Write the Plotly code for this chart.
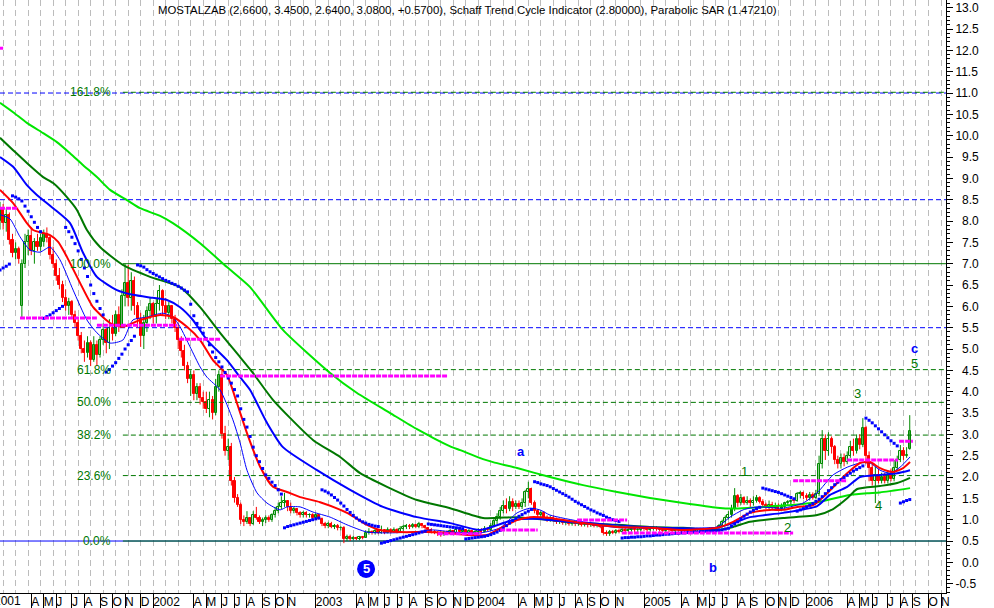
import math
from datetime import datetime, timedelta
import plotly.graph_objects as go

# ---------------- data ----------------
BASE = datetime(2001, 1, 26)          # first weekly bar (Friday)
RANGE_END_DAYS = 2118.2               # right edge of the plot, in days after BASE

opens = [
    8.00, 8.30, 7.95, 8.15, 7.55, 7.25, 7.35, 6.00, 7.00, 7.50,
    7.65, 7.30, 7.50, 7.40, 7.50, 7.70, 7.60, 7.20, 7.00, 6.70,
    6.50, 6.20, 6.00, 6.10, 5.80, 5.60, 5.30, 5.00, 4.90, 5.15,
    4.75, 5.10, 4.85, 5.20, 5.45, 5.15, 5.50, 5.35, 5.80, 5.55,
    6.25, 6.55, 6.20, 6.60, 6.00, 5.70, 5.30, 5.60, 5.90, 6.05,
    5.75, 6.05, 6.35, 6.00, 5.85, 6.00, 5.70, 5.50, 5.20, 4.95,
    4.60, 4.30, 4.40, 3.95, 4.10, 3.85, 3.75, 3.60, 3.80, 3.50,
    4.10, 4.40, 3.00, 2.60, 2.70, 1.90, 1.50, 1.35, 1.00, 0.95,
    1.05, 0.90, 1.10, 1.05, 0.95, 1.00, 1.05, 1.00, 1.10, 1.20,
    1.30, 1.40, 1.45, 1.30, 1.20, 1.25, 1.15, 1.10, 1.15, 1.10,
    1.12, 1.05, 1.10, 1.02, 0.90, 0.85, 0.90, 0.84, 0.86, 0.80,
    0.80, 0.55, 0.60, 0.55, 0.58, 0.55, 0.60, 0.58, 0.70, 0.72,
    0.68, 0.73, 0.70, 0.75, 0.70, 0.76, 0.72, 0.77, 0.72, 0.79,
    0.83, 0.86, 0.82, 0.87, 0.84, 0.89, 0.85, 0.80, 0.75, 0.72,
    0.70, 0.68, 0.66, 0.70, 0.68, 0.73, 0.70, 0.75, 0.72, 0.76,
    0.70, 0.73, 0.68, 0.71, 0.75, 0.72, 0.79, 0.76, 0.86, 0.96,
    1.06, 1.20, 1.32, 1.25, 1.42, 1.30, 1.36, 1.30, 1.38, 1.65,
    1.72, 1.40, 1.20, 1.10, 1.15, 1.05, 1.00, 1.05, 1.00, 0.95,
    0.98, 0.93, 0.95, 0.90, 0.93, 0.90, 0.92, 0.88, 0.90, 0.87,
    0.90, 0.86, 0.88, 0.84, 0.70, 0.66, 0.72, 0.70, 0.74, 0.72,
    0.76, 0.74, 0.76, 0.78, 0.75, 0.77, 0.80, 0.78, 0.76, 0.79,
    0.81, 0.78, 0.76, 0.74, 0.77, 0.75, 0.73, 0.76, 0.78, 0.75,
    0.73, 0.76, 0.74, 0.72, 0.75, 0.77, 0.74, 0.76, 0.78, 0.77,
    0.80, 0.85, 0.95, 1.05, 1.10, 1.25, 1.55, 1.40, 1.50, 1.40,
    1.45, 1.38, 1.45, 1.50, 1.42, 1.35, 1.30, 1.35, 1.28, 1.32,
    1.25, 1.30, 1.38, 1.42, 1.45, 1.44, 1.60, 1.62, 1.55, 1.50,
    1.58, 1.52, 1.60, 2.30, 2.90, 2.60, 2.90, 2.70, 2.40, 2.30,
    2.45, 2.35, 2.50, 2.70, 2.60, 2.90, 2.75, 3.15, 2.50, 2.20,
    1.90, 2.05, 1.90, 2.00, 1.90, 2.05, 1.95, 2.20, 2.40, 2.60,
    2.50, 2.66,
]
highs = [
    8.45, 8.40, 8.30, 8.20, 7.70, 7.50, 7.40, 7.10, 7.70, 7.80,
    7.85, 7.60, 7.70, 7.70, 7.80, 7.85, 7.65, 7.40, 7.10, 6.90,
    6.60, 6.40, 6.20, 6.15, 5.90, 5.70, 5.40, 5.20, 5.30, 5.20,
    5.30, 5.20, 5.30, 5.60, 5.50, 5.70, 5.80, 5.90, 6.00, 6.40,
    7.00, 6.97, 6.80, 6.70, 6.10, 5.85, 5.80, 6.00, 6.20, 6.10,
    6.20, 6.50, 6.40, 6.20, 6.10, 6.00, 5.80, 5.60, 5.30, 5.10,
    4.70, 4.50, 4.50, 4.20, 4.20, 4.00, 4.00, 4.00, 3.90, 4.30,
    4.50, 4.50, 3.20, 2.90, 2.80, 2.00, 1.60, 1.40, 1.10, 1.20,
    1.05, 1.20, 1.30, 1.10, 1.05, 1.10, 1.10, 1.15, 1.30, 1.40,
    1.55, 1.63, 1.46, 1.40, 1.30, 1.27, 1.20, 1.20, 1.20, 1.15,
    1.15, 1.15, 1.12, 1.05, 0.95, 0.95, 0.95, 0.90, 0.90, 0.85,
    0.85, 0.65, 0.65, 0.62, 0.60, 0.62, 0.62, 0.75, 0.80, 0.75,
    0.78, 0.76, 0.86, 0.78, 0.82, 0.80, 0.82, 0.80, 0.85, 0.88,
    0.90, 0.90, 0.92, 0.90, 0.95, 0.92, 0.88, 0.82, 0.80, 0.76,
    0.74, 0.72, 0.74, 0.75, 0.78, 0.76, 0.80, 0.78, 0.80, 0.78,
    0.78, 0.75, 0.76, 0.80, 0.80, 0.85, 0.82, 0.92, 1.05, 1.15,
    1.30, 1.45, 1.50, 1.55, 1.50, 1.45, 1.45, 1.50, 1.70, 1.89,
    1.75, 1.45, 1.25, 1.20, 1.20, 1.10, 1.10, 1.10, 1.05, 1.02,
    1.00, 1.00, 0.98, 0.98, 0.96, 0.96, 0.95, 0.95, 0.93, 0.94,
    0.92, 0.92, 0.90, 0.86, 0.75, 0.76, 0.76, 0.78, 0.78, 0.80,
    0.80, 0.80, 0.82, 0.82, 0.81, 0.84, 0.84, 0.82, 0.83, 0.85,
    0.85, 0.82, 0.80, 0.81, 0.81, 0.79, 0.80, 0.82, 0.82, 0.79,
    0.80, 0.80, 0.78, 0.79, 0.81, 0.81, 0.80, 0.82, 0.82, 0.84,
    0.90, 1.00, 1.10, 1.20, 1.35, 1.74, 1.60, 1.60, 1.55, 1.55,
    1.50, 1.55, 1.58, 1.55, 1.48, 1.40, 1.45, 1.42, 1.40, 1.38,
    1.38, 1.42, 1.46, 1.48, 1.47, 1.65, 1.68, 1.66, 1.62, 1.65,
    1.64, 1.70, 2.50, 3.10, 3.00, 3.05, 2.95, 2.75, 2.50, 2.55,
    2.55, 2.60, 2.85, 2.90, 3.00, 3.00, 3.38, 3.20, 2.60, 2.30,
    2.25, 2.20, 2.10, 2.10, 2.15, 2.20, 2.40, 2.50, 2.75, 2.70,
    2.70, 3.45,
]
lows = [
    7.80, 7.80, 7.75, 7.45, 7.15, 7.10, 7.00, 5.75, 6.90, 7.20,
    7.20, 7.00, 7.30, 7.30, 7.40, 7.50, 7.10, 6.90, 6.60, 6.40,
    6.10, 5.90, 5.80, 5.70, 5.50, 5.20, 4.90, 4.70, 4.80, 4.60,
    4.70, 4.60, 4.80, 5.10, 4.90, 5.00, 5.20, 5.30, 5.40, 5.50,
    6.00, 6.00, 5.90, 5.80, 5.50, 5.05, 5.00, 5.40, 5.70, 5.60,
    5.60, 5.90, 5.80, 5.70, 5.70, 5.60, 5.40, 5.00, 4.80, 4.50,
    4.20, 3.90, 3.80, 3.80, 3.70, 3.60, 3.50, 3.40, 3.35, 3.45,
    4.00, 2.90, 2.50, 2.40, 1.80, 1.40, 1.30, 0.90, 0.85, 0.90,
    0.85, 0.88, 1.00, 0.90, 0.85, 0.92, 0.95, 0.95, 1.05, 1.15,
    1.25, 1.30, 1.20, 1.15, 1.15, 1.10, 1.05, 1.05, 1.05, 1.05,
    1.00, 1.00, 1.00, 0.85, 0.80, 0.80, 0.80, 0.78, 0.75, 0.75,
    0.45, 0.50, 0.50, 0.52, 0.52, 0.52, 0.54, 0.57, 0.65, 0.65,
    0.65, 0.66, 0.67, 0.66, 0.68, 0.68, 0.70, 0.68, 0.70, 0.74,
    0.78, 0.78, 0.80, 0.80, 0.80, 0.80, 0.76, 0.70, 0.68, 0.66,
    0.62, 0.60, 0.62, 0.64, 0.65, 0.66, 0.67, 0.68, 0.68, 0.66,
    0.66, 0.64, 0.64, 0.66, 0.68, 0.70, 0.72, 0.74, 0.82, 0.90,
    1.00, 1.15, 1.15, 1.20, 1.20, 1.25, 1.25, 1.25, 1.30, 1.50,
    1.35, 1.15, 1.05, 1.05, 1.00, 0.95, 0.95, 0.95, 0.90, 0.90,
    0.88, 0.88, 0.86, 0.86, 0.85, 0.86, 0.84, 0.84, 0.82, 0.83,
    0.82, 0.82, 0.80, 0.65, 0.62, 0.62, 0.66, 0.67, 0.68, 0.70,
    0.70, 0.70, 0.72, 0.71, 0.71, 0.73, 0.74, 0.72, 0.72, 0.75,
    0.74, 0.72, 0.70, 0.70, 0.71, 0.69, 0.69, 0.72, 0.71, 0.69,
    0.69, 0.70, 0.68, 0.68, 0.71, 0.70, 0.70, 0.72, 0.73, 0.73,
    0.78, 0.82, 0.90, 1.00, 1.05, 1.20, 1.30, 1.35, 1.35, 1.35,
    1.30, 1.33, 1.40, 1.38, 1.28, 1.25, 1.25, 1.22, 1.22, 1.20,
    1.20, 1.25, 1.33, 1.36, 1.38, 1.42, 1.50, 1.48, 1.45, 1.45,
    1.47, 1.48, 1.55, 2.20, 2.40, 2.50, 2.55, 2.30, 2.20, 2.20,
    2.25, 2.30, 2.45, 2.50, 2.55, 2.65, 2.70, 2.30, 1.90, 1.80,
    1.39, 1.85, 1.85, 1.85, 1.85, 1.90, 1.90, 2.15, 2.35, 2.40,
    2.45, 2.64,
]
closes = [
    8.30, 7.95, 8.15, 7.55, 7.25, 7.35, 7.10, 7.00, 7.50, 7.65,
    7.30, 7.50, 7.40, 7.60, 7.70, 7.60, 7.20, 7.00, 6.70, 6.50,
    6.20, 6.00, 6.10, 5.80, 5.60, 5.30, 5.00, 4.90, 5.15, 4.75,
    5.10, 4.85, 5.20, 5.45, 5.15, 5.50, 5.35, 5.80, 5.55, 6.25,
    6.55, 6.20, 6.60, 6.00, 5.70, 5.30, 5.60, 5.90, 6.05, 5.75,
    6.05, 6.35, 6.00, 5.85, 6.00, 5.70, 5.50, 5.20, 4.95, 4.60,
    4.30, 4.40, 3.95, 4.10, 3.85, 3.75, 3.60, 3.80, 3.50, 4.10,
    4.40, 3.00, 2.60, 2.70, 1.90, 1.50, 1.35, 1.00, 0.95, 1.05,
    0.90, 1.10, 1.05, 0.95, 1.00, 1.05, 1.00, 1.10, 1.20, 1.30,
    1.40, 1.45, 1.30, 1.20, 1.25, 1.15, 1.10, 1.15, 1.10, 1.12,
    1.05, 1.10, 1.02, 0.90, 0.85, 0.90, 0.84, 0.86, 0.80, 0.80,
    0.55, 0.60, 0.55, 0.58, 0.55, 0.60, 0.58, 0.70, 0.72, 0.68,
    0.73, 0.70, 0.75, 0.70, 0.76, 0.72, 0.77, 0.72, 0.79, 0.83,
    0.86, 0.82, 0.87, 0.84, 0.89, 0.85, 0.80, 0.75, 0.72, 0.70,
    0.68, 0.66, 0.70, 0.68, 0.73, 0.70, 0.75, 0.72, 0.76, 0.70,
    0.73, 0.68, 0.71, 0.75, 0.72, 0.79, 0.76, 0.86, 0.96, 1.06,
    1.20, 1.32, 1.25, 1.42, 1.30, 1.36, 1.30, 1.38, 1.65, 1.72,
    1.40, 1.20, 1.10, 1.15, 1.05, 1.00, 1.05, 1.00, 0.95, 0.98,
    0.93, 0.95, 0.90, 0.93, 0.90, 0.92, 0.88, 0.90, 0.87, 0.90,
    0.86, 0.88, 0.84, 0.70, 0.66, 0.72, 0.70, 0.74, 0.72, 0.76,
    0.74, 0.76, 0.78, 0.75, 0.77, 0.80, 0.78, 0.76, 0.79, 0.81,
    0.78, 0.76, 0.74, 0.77, 0.75, 0.73, 0.76, 0.78, 0.75, 0.73,
    0.76, 0.74, 0.72, 0.75, 0.77, 0.74, 0.76, 0.78, 0.77, 0.80,
    0.85, 0.95, 1.05, 1.10, 1.25, 1.55, 1.40, 1.50, 1.40, 1.45,
    1.38, 1.45, 1.50, 1.42, 1.35, 1.30, 1.35, 1.28, 1.32, 1.25,
    1.30, 1.38, 1.42, 1.45, 1.44, 1.60, 1.62, 1.55, 1.50, 1.58,
    1.52, 1.60, 2.30, 2.90, 2.60, 2.90, 2.70, 2.40, 2.30, 2.45,
    2.35, 2.50, 2.70, 2.60, 2.90, 2.75, 3.15, 2.50, 2.20, 1.90,
    2.05, 1.90, 2.00, 1.90, 2.05, 1.95, 2.20, 2.40, 2.60, 2.50,
    2.51, 3.08,
]

# Parabolic SAR, one value per weekly bar
sar = [
    6.85, 6.90, 6.94, 6.99,
    8.59, 8.56, 8.52, 8.47, 8.35, 8.23, 8.10, 7.97, 7.85, 7.75,
    5.72, 5.76, 5.80, 5.85, 5.90, 5.95, 6.00,
    7.85, 7.75, 7.62, 7.47, 7.30, 7.10, 6.90, 6.70, 6.50, 6.30, 6.12, 5.95, 5.80,
    4.46, 4.52, 4.60, 4.68, 4.78, 4.88, 5.00, 5.10, 5.20, 5.30,
    6.97, 6.95, 6.92, 6.86, 6.81, 6.77, 6.73, 6.69, 6.65, 6.61, 6.58, 6.54, 6.51,
    6.47, 6.43, 6.38, 6.34,
    6.05, 5.78, 5.60, 5.49, 5.37, 5.24, 5.10, 4.93, 4.80, 4.70, 4.58, 4.45, 4.32,
    4.20, 4.05, 3.90, 3.60, 3.35, 3.17, 2.95, 2.70, 2.50, 2.36, 2.20, 2.05, 1.97,
    1.88, 1.80, 1.70, 1.60,
    0.81, 0.84, 0.86, 0.88, 0.90, 0.92, 0.94, 0.96, 0.98, 1.00, 1.02, 1.04,
    1.70, 1.67, 1.63, 1.58, 1.52, 1.46, 1.39, 1.32, 1.24, 1.17, 1.10, 1.04, 0.99,
    0.95, 0.92, 0.89, 0.87, 0.85, 0.84,
    0.45, 0.47, 0.49, 0.51, 0.53, 0.55, 0.57, 0.59, 0.61, 0.63, 0.65, 0.67, 0.69,
    0.71, 0.73,
    0.90, 0.89, 0.88, 0.87, 0.86, 0.85, 0.84, 0.83, 0.82, 0.81, 0.80, 0.79,
    0.55, 0.56, 0.57, 0.58, 0.59, 0.60, 0.61, 0.63, 0.65, 0.68, 0.71, 0.75, 0.80,
    0.86, 0.92, 0.98, 1.03, 1.08, 1.12, 1.16, 1.20, 1.24,
    1.89, 1.87, 1.84, 1.82, 1.80, 1.77, 1.73, 1.69, 1.65, 1.61, 1.57, 1.53, 1.48,
    1.43, 1.39, 1.35, 1.31, 1.27, 1.23, 1.20, 1.16, 1.13, 1.10, 1.06, 1.03, 1.00,
    0.98, 0.96,
    0.57, 0.58, 0.58, 0.59, 0.59, 0.60, 0.60, 0.61, 0.62, 0.62, 0.63, 0.64, 0.64,
    0.65, 0.66, 0.66, 0.67, 0.68, 0.68, 0.69, 0.69, 0.70, 0.70, 0.71, 0.71, 0.72,
    0.72, 0.73, 0.73, 0.74, 0.74, 0.75, 0.76, 0.78, 0.80, 0.85, 0.90, 0.95, 1.02,
    1.08, 1.13, 1.18, 1.22, 1.26, 1.29,
    1.74, 1.72, 1.70, 1.68, 1.66, 1.64, 1.61, 1.58, 1.55, 1.52, 1.49,
    1.20, 1.23, 1.26, 1.30, 1.34, 1.38, 1.43, 1.48, 1.54, 1.61, 1.68, 1.75, 1.82,
    1.88, 1.94, 1.99, 2.04, 2.09, 2.14, 2.18, 2.22, 2.26,
    3.38, 3.33, 3.27, 3.20, 3.13, 3.06, 2.99, 2.92, 2.85, 2.79, 2.73,
    1.39, 1.42, 1.45, 1.4721,
]

# moving averages sampled at (week index, value)
ma_long_w = [0, 4.2, 8.6, 13.8, 18.2, 22.4, 26.6, 31.0, 35.2, 40.6, 44.8, 51.2, 55.3, 64.0,
             72.6, 80.0, 90.5, 105.6, 114.2, 124.8, 133.4, 138.5, 144.0, 147.2, 154.5, 157.7,
             165.4, 175.9, 186.5, 197.4, 207.9, 218.5, 229.4, 234.5, 239.9, 250.5, 261.4,
             271.9, 277.4, 281.5, 291.1]
ma_long_v = [10.77, 10.55, 10.30, 10.06, 9.85, 9.59, 9.31, 9.03, 8.73, 8.49, 8.30, 8.12, 7.95, 7.48,
             6.92, 6.45, 5.45, 4.44, 3.97, 3.50, 3.12, 2.92, 2.72, 2.63, 2.42, 2.35,
             2.21, 2.00, 1.81, 1.65, 1.51, 1.39, 1.28, 1.26, 1.28, 1.33, 1.41,
             1.58, 1.62, 1.64, 1.74]

ma_mid_w = [0, 4.2, 8.6, 13.8, 17.0, 21.4, 24.6, 27.8, 32.0, 39.3, 48.0, 57.6, 64.0, 70.4, 76.8,
            80.9, 87.3, 100.1, 108.8, 115.2, 123.8, 133.4, 144.0, 154.5, 165.4, 175.9, 186.5,
            197.4, 207.9, 218.5, 229.4, 234.5, 239.9, 250.5, 261.4, 266.5, 271.0, 274.2, 281.5,
            287.0, 291.1]
ma_mid_v = [9.95, 9.66, 9.36, 9.03, 8.89, 8.56, 8.26, 7.79, 7.39, 6.97, 6.69, 6.45, 5.98, 5.38, 4.81,
            4.44, 3.81, 2.87, 2.47, 2.09, 1.77, 1.46, 1.27, 1.04, 1.06, 0.99, 0.92,
            0.88, 0.83, 0.81, 0.76, 0.83, 0.95, 1.04, 1.11, 1.25, 1.50, 1.72, 1.79,
            1.86, 1.98]

ma_blue_w = [0, 4.2, 8.6, 11.8, 17.0, 22.4, 26.6, 31.0, 37.4, 42.5, 48.9, 53.4, 57.6, 61.7, 66.2,
             72.6, 76.8, 80.0, 85.4, 90.5, 101.4, 112.0, 122.5, 133.4, 144.0, 153.6, 164.1,
             171.8, 175.9, 186.5, 197.4, 207.9, 218.5, 229.4, 234.5, 239.9, 250.5, 261.4,
             265.5, 271.0, 275.1, 281.5, 287.0, 291.1]
ma_blue_v = [9.50, 9.27, 8.84, 8.61, 8.30, 7.95, 7.25, 6.69, 6.38, 6.27, 6.20, 6.15, 5.98, 5.68, 5.21,
             4.74, 4.34, 4.04, 3.27, 2.70, 2.16, 1.70, 1.30, 1.06, 0.92, 0.76, 0.99,
             1.02, 0.99, 0.92, 0.83, 0.81, 0.78, 0.81, 0.92, 1.06, 1.16, 1.32,
             1.58, 1.77, 2.00, 2.05, 2.09, 2.16]

ma_fast_w = [0, 3.2, 6.4, 9.6, 12.8, 16.0, 19.2, 23.4, 27.8, 31.0, 35.2, 39.3, 42.5, 47.0, 52.1,
             55.3, 57.6, 60.8, 64.0, 66.2, 70.4, 74.5, 76.8, 79.0, 82.2, 85.4, 89.6, 91.8, 96.0,
             100.1, 105.6, 111.0, 117.4, 123.8, 132.1, 138.5, 144.9, 153.6, 160.0, 165.4, 169.5,
             172.7, 175.9, 186.5, 197.4, 207.9, 218.5, 229.4, 233.5, 237.7, 242.2, 250.5, 256.9,
             261.4, 266.5, 271.0, 275.1, 278.3, 281.5, 284.7, 287.9, 291.1]
ma_fast_v = [8.15, 8.05, 7.63, 7.32, 7.27, 7.39, 7.09, 6.38, 5.68, 5.38, 5.14, 5.21, 5.68, 5.75, 5.84,
             5.75, 5.52, 5.05, 4.58, 4.34, 4.04, 3.34, 2.80, 2.16, 1.63, 1.39, 1.23, 1.30, 1.30,
             1.18, 1.06, 0.88, 0.71, 0.69, 0.71, 0.76, 0.71, 0.69, 0.81, 1.16, 1.27,
             1.23, 1.11, 0.95, 0.88, 0.83, 0.81, 0.83, 1.06, 1.23, 1.30, 1.27, 1.39,
             1.63, 2.05, 2.23, 2.33, 2.33, 2.16, 2.09, 2.23, 2.47]

ma_red_w = [0, 4.2, 8.6, 10.6, 16.0, 18.6, 21.4, 25.6, 29.8, 35.2, 39.3, 44.8, 51.2, 55.3, 59.8,
            64.0, 68.1, 72.6, 75.8, 79.0, 83.2, 87.3, 91.8, 96.0, 102.4, 111.0, 117.4, 121.6,
            128.0, 136.6, 143.0, 149.4, 155.8, 160.9, 165.4, 169.5, 175.9, 186.5, 197.4, 207.9,
            218.5, 229.4, 234.5, 239.9, 246.3, 250.5, 255.0, 260.1, 263.3, 267.8, 271.0, 275.1,
            278.3, 281.5, 285.7, 288.9, 291.1]
ma_red_v = [8.73, 8.42, 7.95, 7.79, 7.67, 7.51, 7.16, 6.55, 5.98, 5.61, 5.52, 5.68, 5.80, 5.75, 5.52,
            5.21, 4.74, 4.39, 3.73, 3.03, 2.24, 1.77, 1.65, 1.53, 1.41, 1.16, 0.88, 0.76,
            0.71, 0.71, 0.69, 0.64, 0.64, 0.83, 0.99, 1.06, 1.04, 0.92, 0.83, 0.81,
            0.76, 0.81, 0.95, 1.16, 1.23, 1.23, 1.30, 1.34, 1.53, 1.86, 2.09, 2.33,
            2.35, 2.21, 2.12, 2.21, 2.35]

# magenta horizontal segments: start week, end week, level
seg_start = [0.0, 0.0, 6.4, 31.0, 57.3, 70.4, 140.0, 160.0, 184.6, 198.9, 253.7, 271.0, 287.6]
seg_end = [1.0, 5.8, 31.0, 56.6, 70.4, 143.0, 154.0, 172.0, 200.6, 253.7, 271.0, 287.3, 292.0]
seg_level = [12.05, 8.30, 5.73, 5.56, 5.23, 4.37, 0.67, 0.76, 0.99, 0.69, 1.91, 2.40, 2.84]

# Fibonacci retracement
fib_labels = ["0.0%", "23.6%", "38.2%", "50.0%", "61.8%", "100.0%", "161.8%"]
fib_values = [0.5, 2.034, 2.983, 3.75, 4.517, 7.0, 11.017]
FIB_START_WEEK = 39.3
FIB_LABEL_WEEK = 36.1

# other horizontal levels
blue_levels = [11.0, 8.5, 5.5, 0.5]

# wave labels
wave_texts = ["a", "b", "c", "1", "2", "3", "4", "5"]
wave_weeks = [166.7, 228.1, 292.4, 238.0, 251.8, 274.2, 280.9, 292.4]
wave_values = [2.61, -0.11, 5.02, 2.14, 0.81, 3.95, 1.34, 4.65]
circle_week, circle_value, circle_text = 117.1, -0.155, "5"

# x-axis labels
tick_months = ["2001-01", "2001-04", "2001-05", "2001-06", "2001-07", "2001-08", "2001-09",
               "2001-10", "2001-11", "2001-12",
               "2002-01", "2002-04", "2002-05", "2002-06", "2002-07", "2002-08", "2002-09",
               "2002-10", "2002-11",
               "2003-01", "2003-04", "2003-05", "2003-06", "2003-07", "2003-08", "2003-09",
               "2003-10", "2003-11", "2003-12",
               "2004-01", "2004-04", "2004-05", "2004-06", "2004-07", "2004-08", "2004-09",
               "2004-10", "2004-11",
               "2005-01", "2005-04", "2005-05", "2005-06", "2005-07", "2005-08", "2005-09",
               "2005-10", "2005-11", "2005-12",
               "2006-01", "2006-04", "2006-05", "2006-06", "2006-07", "2006-08", "2006-09",
               "2006-10", "2006-11"]
tick_texts = ["2001", "A", "M", "J", "J", "A", "S", "O", "N", "D",
              "2002", "A", "M", "J", "J", "A", "S", "O", "N",
              "2003", "A", "M", "J", "J", "A", "S", "O", "N", "D",
              "2004", "A", "M", "J", "J", "A", "S", "O", "N",
              "2005", "A", "M", "J", "J", "A", "S", "O", "N", "D",
              "2006", "A", "M", "J", "J", "A", "S", "O", "N"]

TITLE = ("MOSTALZAB (2.6600, 3.4500, 2.6400, 3.0800, +0.5700), "
         "Schaff Trend Cycle Indicator (2.80000), Parabolic SAR (1.47210)")

# ---------------- helpers ----------------
def wk(i):
    return BASE + timedelta(days=7 * i)

def first_bar_of_month(ym):
    y, m = map(int, ym.split("-"))
    d = (datetime(y, m, 1) - BASE).days
    return wk(math.ceil(d / 7))

n = len(closes)
dates = [wk(i) for i in range(n)]
x_end = BASE + timedelta(days=RANGE_END_DAYS)
x_range = [BASE.strftime("%Y-%m-%d %H:%M"), x_end.strftime("%Y-%m-%d %H:%M")]

GREEN = "#008a00"
LIGHT_GREEN = "#00e600"
DARK_GREEN = "#007800"
BLUE = "#0000ff"
RED = "#ff0000"
MAGENTA = "#ff00ff"
FONT = "Liberation Sans, Arial, sans-serif"

fig = go.Figure()

# horizontal blue levels (full width)
for lv in blue_levels:
    fig.add_trace(go.Scatter(x=[BASE, x_end], y=[lv, lv], mode="lines",
                             line=dict(color=BLUE, width=1,
                                       dash="solid" if lv == 0.5 else "5px,3px"),
                             hoverinfo="skip", showlegend=False))
# fibonacci lines
for lab, lv in zip(fib_labels, fib_values):
    solid = lab in ("0.0%", "100.0%")
    fig.add_trace(go.Scatter(x=[wk(FIB_START_WEEK), x_end], y=[lv, lv], mode="lines",
                             line=dict(color=DARK_GREEN, width=1,
                                       dash="solid" if solid else "5px,3px"),
                             hoverinfo="skip", showlegend=False))

# candles: wicks
for up in (True, False):
    wx, wy = [], []
    for d, o, h, l, c in zip(dates, opens, highs, lows, closes):
        if (c >= o) == up:
            wx += [d, d, None]
            wy += [l, h, None]
    fig.add_trace(go.Scatter(x=wx, y=wy, mode="lines",
                             line=dict(color=GREEN if up else RED, width=1),
                             hoverinfo="skip", showlegend=False))
# candles: bodies
for up in (True, False):
    bx, bb, bh = [], [], []
    for d, o, c in zip(dates, opens, closes):
        if (c >= o) == up:
            bx.append(d)
            bb.append(min(o, c))
            bh.append(max(abs(c - o), 0.012))
    fig.add_trace(go.Bar(x=bx, y=bh, base=bb, width=4.6 * 86400000,
                         marker=dict(color="white" if up else RED,
                                     line=dict(color=GREEN if up else RED, width=1)),
                         hoverinfo="skip", showlegend=False))

# moving averages
for w, v, col, lw in [(ma_long_w, ma_long_v, LIGHT_GREEN, 2),
                      (ma_mid_w, ma_mid_v, DARK_GREEN, 2),
                      (ma_blue_w, ma_blue_v, BLUE, 2),
                      (ma_fast_w, ma_fast_v, BLUE, 1),
                      (ma_red_w, ma_red_v, RED, 2)]:
    fig.add_trace(go.Scatter(x=[wk(i) for i in w], y=v, mode="lines",
                             line=dict(color=col, width=lw, shape="spline", smoothing=0.6),
                             hoverinfo="skip", showlegend=False))

# parabolic SAR
fig.add_trace(go.Scatter(x=dates, y=sar, mode="markers",
                         marker=dict(symbol="square", size=3.0, color=BLUE,
                                     line=dict(width=0)),
                         hoverinfo="skip", showlegend=False))

# magenta segments
for s, e, lv in zip(seg_start, seg_end, seg_level):
    fig.add_trace(go.Scatter(x=[wk(s), wk(e)], y=[lv, lv], mode="lines",
                             line=dict(color=MAGENTA, width=3, dash="5px,1px"),
                             hoverinfo="skip", showlegend=False))

# circled 5
fig.add_trace(go.Scatter(x=[wk(circle_week)], y=[circle_value], mode="markers",
                         marker=dict(symbol="circle", size=18, color=BLUE),
                         hoverinfo="skip", showlegend=False))

annotations = []
for lab, lv in zip(fib_labels, fib_values):
    annotations.append(dict(x=wk(FIB_LABEL_WEEK), y=lv, xref="x", yref="y", text=lab,
                            showarrow=False, xanchor="right", yanchor="middle",
                            font=dict(family=FONT, size=12, color=DARK_GREEN)))
for t, w, v in zip(wave_texts, wave_weeks, wave_values):
    letter = t.isalpha()
    annotations.append(dict(x=wk(w), y=v, xref="x", yref="y",
                            text=f"<b>{t}</b>" if letter else t,
                            showarrow=False, xanchor="center", yanchor="middle",
                            font=dict(family=FONT, size=13,
                                      color=BLUE if letter else DARK_GREEN)))
annotations.append(dict(x=wk(circle_week), y=circle_value, xref="x", yref="y",
                        text=f"<b>{circle_text}</b>", showarrow=False,
                        font=dict(family=FONT, size=13, color="white")))
annotations.append(dict(x=155.7 / 946, y=1 - 10 / 593, xref="paper", yref="paper",
                        text=TITLE, showarrow=False, xanchor="left", yanchor="middle",
                        font=dict(family=FONT, size=11.4, color="black")))

tick_dates = [first_bar_of_month(m) for m in tick_months]
# ticks that fall before the first bar (left of the plot) are shown as a clipped label
in_range = [d >= BASE for d in tick_dates]
axis_tick_dates = [d for d, ok in zip(tick_dates, in_range) if ok]
axis_tick_texts = [t for t, ok in zip(tick_texts, in_range) if ok]
for d, t, ok in zip(tick_dates, tick_texts, in_range):
    if not ok:
        frac = (d - BASE).total_seconds() / 86400 / RANGE_END_DAYS
        annotations.append(dict(x=frac, y=0, xref="paper", yref="paper", text=t,
                                showarrow=False, xanchor="left", yanchor="top",
                                xshift=1, yshift=1,
                                font=dict(family=FONT, size=12, color="black")))

y_vals = [k * 0.5 for k in range(-1, 27)]
y_text = [("\u2007" + f"{v:.1f}") if len(f"{v:.1f}") == 3 else f"{v:.1f}" for v in y_vals]

fig.update_layout(
    width=994, height=608,
    margin=dict(l=0, r=48, t=0, b=15),
    paper_bgcolor="white", plot_bgcolor="white",
    barmode="overlay", bargap=0,
    showlegend=False,
    annotations=annotations,
    xaxis=dict(type="date", range=x_range, showgrid=True, gridcolor="#bcbcbc",
               griddash="6px,4px", gridwidth=1,
               tick0=wk(1).strftime("%Y-%m-%d"), dtick=28 * 86400000,
               showticklabels=False, ticks="", zeroline=False, showline=False),
    xaxis2=dict(type="date", range=x_range, overlaying="x", anchor="y", side="bottom",
                tickmode="array", tickvals=axis_tick_dates,
                ticktext=[""] * len(axis_tick_dates),
                ticks="outside", ticklen=15, tickcolor="black", tickwidth=1,
                showgrid=False, showline=True, linecolor="black", linewidth=1,
                zeroline=False),
    xaxis3=dict(type="date", range=x_range, overlaying="x", anchor="y", side="bottom",
                tickmode="array", tickvals=axis_tick_dates, ticktext=axis_tick_texts,
                ticks="", ticklen=0, ticklabelposition="outside right", tickangle=0,
                tickfont=dict(family=FONT, size=12, color="black"),
                showgrid=False, showline=False, zeroline=False),
    yaxis=dict(side="right", range=[-0.718, 13.18], tickmode="array",
               tickvals=y_vals, ticktext=y_text, ticks="outside", ticklen=6,
               tickcolor="black", tickwidth=1, showgrid=False, zeroline=False,
               showline=True, linecolor="black", linewidth=1,
               tickfont=dict(family=FONT, size=12, color="black"),
               minor=dict(tickmode="linear", tick0=0, dtick=0.1, ticks="outside",
                          ticklen=3, tickcolor="black", showgrid=False)),
)
# attach invisible traces to overlay axes so they render
fig.add_trace(go.Scatter(x=[dates[0]], y=[None], xaxis="x2", showlegend=False, hoverinfo="skip"))
fig.add_trace(go.Scatter(x=[dates[0]], y=[None], xaxis="x3", showlegend=False, hoverinfo="skip"))

fig.write_html("out.html", config={"displayModeBar": False},
               post_script="document.body.style.margin='0';document.body.style.overflow='hidden';")
